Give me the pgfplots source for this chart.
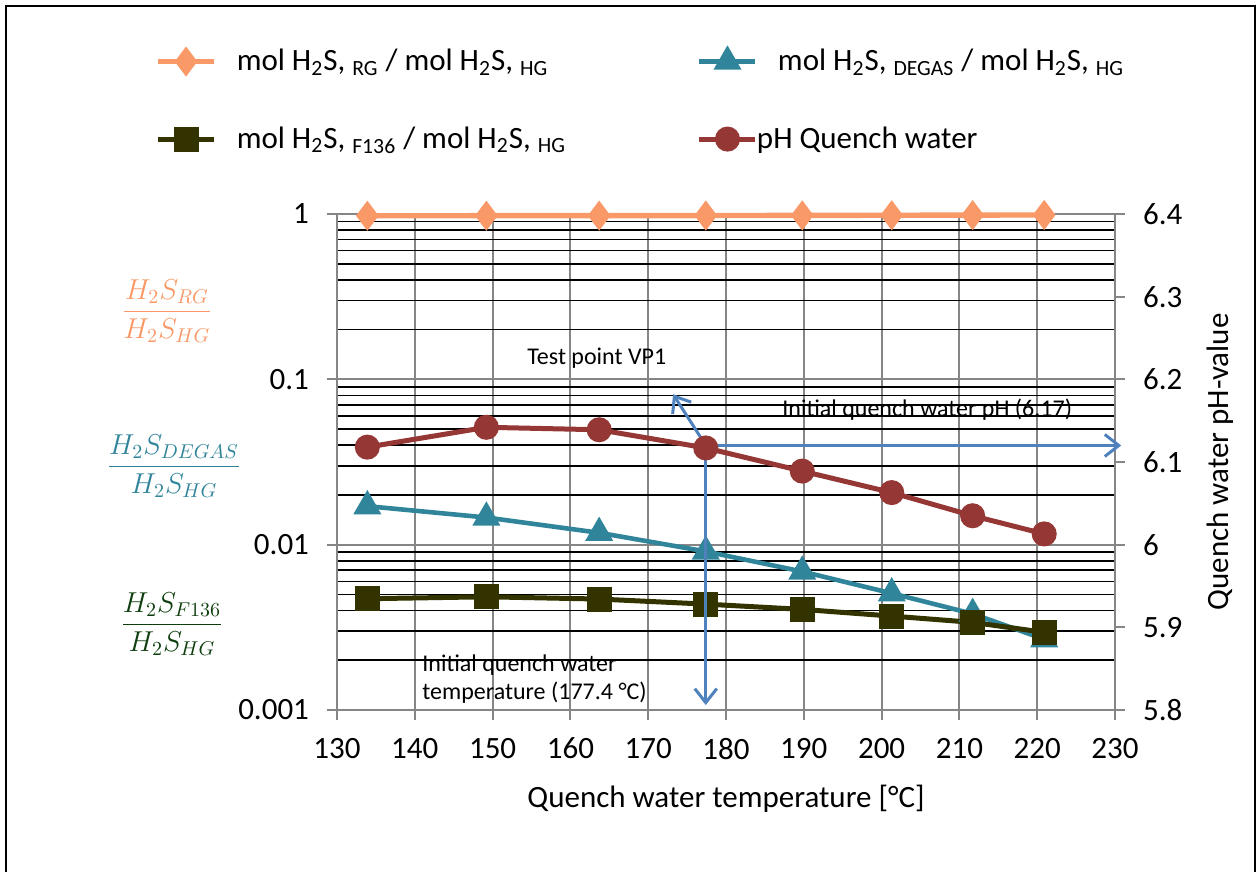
\documentclass[border=0pt]{standalone}
\usepackage{pgfplots}
\pgfplotsset{compat=1.18}
\usepackage{fontspec}
\setmainfont{Carlito}
\usetikzlibrary{arrows.meta}

\definecolor{rgC}{RGB}{249,153,104}
\definecolor{degasC}{RGB}{49,133,155}
\definecolor{fC}{RGB}{51,51,0}
\definecolor{phC}{RGB}{149,55,53}
\definecolor{arrC}{RGB}{79,129,189}
\definecolor{gridC}{RGB}{134,134,134}
\definecolor{labF}{RGB}{14,62,14}

\newcommand{\mainsize}{\fontsize{15.5}{18}\selectfont}
\newcommand{\notesize}{\fontsize{12}{14}\selectfont}

\pgfplotsset{
  common/.style={
    at={(168.5pt,-355pt)}, anchor=south west,
    scale only axis, width=389pt, height=248pt,
    xmin=130, xmax=230, clip=false,
    tick align=outside, major tick length=5pt, minor tick length=0pt,
    axis line style={draw=gridC, line width=1pt},
    major tick style={draw=gridC, line width=1pt},
    tick label style={font=\mainsize, text=black},
    /pgf/number format/assume math mode=true,
    label style={font=\mainsize},
    xticklabel shift=5.5pt, yticklabel shift=5.5pt,
  },
  legend image code/.code={
    \draw[mark repeat=2,mark phase=2] plot coordinates {(0pt,0pt)(14pt,0pt)(28pt,0pt)};
  },
}

\begin{document}
\begin{tikzpicture}[x=0.5pt,y=-0.5pt]
\useasboundingbox (0,0) rectangle (1258,872);
\draw[black, line width=0.9pt] (6,880) -- (6,6) -- (1255,6) -- (1255,880);

% left axis: H2S ratios on a log scale
\begin{axis}[common,
  ymode=log, ymin=0.001, ymax=1,
  axis x line*=bottom, axis y line*=left,
  xtick={130,140,150,160,170,180,190,200,210,220,230},
  ytick={0.001,0.01,0.1,1}, yticklabels={0.001,0.01,0.1,1},
  minor ytick={0.002,0.003,0.004,0.005,0.006,0.007,0.008,0.009,
               0.02,0.03,0.04,0.05,0.06,0.07,0.08,0.09,
               0.2,0.3,0.4,0.5,0.6,0.7,0.8,0.9},
  xmajorgrids, ymajorgrids, yminorgrids,
  major grid style={draw=gridC, line width=1pt},
  minor grid style={draw=black, line width=0.8pt},
  xlabel={Quench water temperature [°C]},
  xlabel style={at={(axis description cs:0.5,-0.1975)}, anchor=base},
  legend columns=2,
  legend cell align=left,
  legend style={at={(axis description cs:-0.234,1.341)}, anchor=north west,
    draw=none, fill=none, inner sep=0pt, font=\mainsize, row sep=22.5pt,
    /tikz/every odd column/.append style={column sep=8pt},
    /tikz/every even column/.append style={column sep=63.5pt}},
]
\addplot[rgC, line width=2.7pt, mark=diamond*, mark size=5.3pt, mark options={solid}]
  coordinates {(133.9,0.976)(149.2,0.977)(163.7,0.978)(177.4,0.979)
               (189.8,0.981)(201.3,0.983)(211.7,0.985)(220.9,0.987)};
\addlegendentry{mol H\textsubscript{2}S, \textsubscript{RG} / mol H\textsubscript{2}S, \textsubscript{HG}}
\addplot[degasC, line width=2.3pt, mark=triangle*, mark size=5.8pt, mark options={solid}]
  coordinates {(133.9,0.0171)(149.2,0.0146)(163.7,0.0118)(177.4,0.0091)
               (189.8,0.00688)(201.3,0.00508)(211.7,0.00382)(220.9,0.00268)};
\addlegendentry{mol H\textsubscript{2}S, \textsubscript{DEGAS} / mol H\textsubscript{2}S, \textsubscript{HG}}
\addplot[fC, line width=2.5pt, mark=square*, mark size=5pt, mark options={solid}]
  coordinates {(133.9,0.00471)(149.2,0.00484)(163.7,0.00469)(177.4,0.00437)
               (189.8,0.00406)(201.3,0.00370)(211.7,0.00339)(220.9,0.00295)};
\addlegendentry{mol H\textsubscript{2}S, \textsubscript{F136} / mol H\textsubscript{2}S, \textsubscript{HG}}
\addlegendimage{phC, line width=2.5pt, mark=*, mark size=5pt, mark options={solid}}
\addlegendentry{\hspace*{-10.5pt}pH Quench water}
\end{axis}

% right axis: quench water pH
\begin{axis}[common,
  ymin=5.8, ymax=6.4,
  axis x line=none, axis y line*=right,
  ytick={5.8,5.9,6,6.1,6.2,6.3,6.4},
  yticklabel style={/pgf/number format/fixed, /pgf/number format/precision=1},
  ylabel={Quench water pH-value},
  ylabel style={at={(axis description cs:1.135,0.5)}, anchor=center, rotate=0},
]
\addplot[phC, line width=2.5pt, mark=*, mark size=5pt, mark options={solid}]
  coordinates {(133.9,6.118)(149.2,6.142)(163.7,6.139)(177.4,6.117)
               (189.8,6.089)(201.3,6.063)(211.7,6.035)(220.9,6.013)};
\draw[arrC, line width=1.5pt, -{Straight Barb[length=7pt,width=11pt]}]
  (axis cs:177.4,6.12) -- (axis cs:177.4,5.806);
\draw[arrC, line width=1.5pt, -{Straight Barb[length=7pt,width=11pt]}]
  (axis cs:177.4,6.12) -- (axis cs:230.8,6.12);
\draw[arrC, line width=1.5pt, -{Straight Barb[length=7pt,width=11pt]}]
  (axis cs:177.4,6.12) -- (axis cs:173.2,6.182);
\end{axis}

% annotations
\node[anchor=west, font=\notesize, inner sep=0pt] at (527,358) {Test point VP1};
\node[anchor=west, font=\notesize, inner sep=0pt] at (782,410) {Initial quench water pH (6.17)};
\node[anchor=west, font=\notesize, inner sep=0pt, align=left] at (422,679)
  {Initial quench water\\temperature (177.4 °C)};

% ratio labels beside the left axis
\node[text=rgC] at (167,311) {\fontsize{14}{16}\selectfont$\displaystyle\frac{H_2S_{RG}}{H_2S_{HG}}$};
\node[text=degasC] at (174,466) {\fontsize{14}{16}\selectfont$\displaystyle\frac{H_2S_{DEGAS}}{H_2S_{HG}}$};
\node[text=labF] at (172,624) {\fontsize{14}{16}\selectfont$\displaystyle\frac{H_2S_{F136}}{H_2S_{HG}}$};
\end{tikzpicture}
\end{document}
